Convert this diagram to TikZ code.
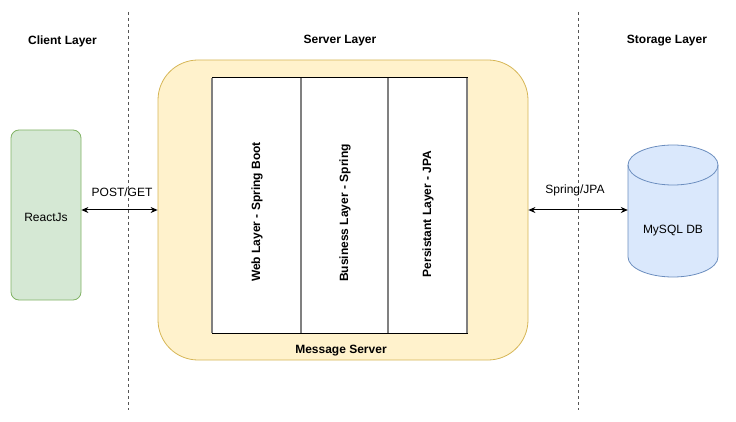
\documentclass[tikz,border=0pt]{standalone}
\usepackage{fontspec}
\setmainfont{Liberation Sans}
\usetikzlibrary{arrows.meta}
\definecolor{greenfill}{HTML}{D5E8D4}
\definecolor{greenline}{HTML}{82B366}
\definecolor{yellowfill}{HTML}{FFF2CC}
\definecolor{yellowline}{HTML}{D6B656}
\definecolor{bluefill}{HTML}{DAE8FC}
\definecolor{blueline}{HTML}{6C8EBF}
\definecolor{lanegray}{HTML}{808080}
\definecolor{dashgray}{HTML}{555555}
\tikzset{
  txt/.style={font=\fontsize{12}{14}\selectfont, inner sep=0pt},
  hdr/.style={txt, font=\fontsize{12}{14}\selectfont\bfseries},
  lanetxt/.style={hdr, rotate=90},
  sep/.style={draw=dashgray, line width=0.8pt, dash pattern=on 3pt off 3pt},
  arr/.style={draw=black, line width=1pt, {Stealth[length=7pt,width=6pt]}-{Stealth[length=7pt,width=6pt]}},
  lane/.style={draw=lanegray, line width=1.6pt},
}
\begin{document}
\begin{tikzpicture}[x=1pt,y=-1pt]
\useasboundingbox (0,0) rectangle (736,422);
% separators
\coordinate (s1t) at (128,12);
\coordinate (s1b) at (128,410);
\coordinate (s2t) at (578,12);
\coordinate (s2b) at (578,410);
\draw[sep] (s1t) -- (s1b);
\draw[sep] (s2t) -- (s2b);
% headers
\node[hdr] (hclient) at (62.5,41) {Client Layer};
\node[hdr] (hserver) at (340,41) {Server Layer};
\node[hdr] (hstorage) at (667,41) {Storage Layer};
% client
\node[draw=greenline, fill=greenfill, rounded corners=8pt, line width=0.8pt,
      minimum width=70pt, minimum height=170pt, inner sep=0pt] (react) at (46,215) {};
\node[txt] (reactlbl) at (46,217) {ReactJs};
% server
\node[draw=yellowline, fill=yellowfill, rounded corners=40pt, line width=0.8pt,
      minimum width=370pt, minimum height=300pt, inner sep=0pt] (server) at (343,210) {};
\node[draw=black, fill=white, line width=1pt, minimum width=255pt, minimum height=255pt,
      inner sep=0pt] (inner) at (339.5,205.5) {};
\coordinate (d0t) at (212,78); \coordinate (d0b) at (212,333);
\coordinate (d1t) at (301,78); \coordinate (d1b) at (301,333);
\coordinate (d2t) at (388,78); \coordinate (d2b) at (388,333);
\coordinate (d3t) at (467,78); \coordinate (d3b) at (467,333);
\draw[lane] (d0t) -- (d0b);
\draw[lane] (d1t) -- (d1b);
\draw[lane] (d2t) -- (d2b);
\draw[lane] (d3t) -- (d3b);
\draw[black, line width=1pt] (d0t) -- (d3t);
\draw[black, line width=1pt] (d0b) -- (d3b);
\node[lanetxt] (web) at (257,212) {Web Layer - Spring Boot};
\node[lanetxt] (bus) at (345,213) {Business Layer - Spring};
\node[lanetxt] (pers) at (428,214) {Persistant Layer - JPA};
\node[hdr] (msg) at (341,351) {Message Server};
% database cylinder
\filldraw[draw=blueline, fill=bluefill, line width=0.8pt]
  (628,165) -- (628,257) arc (180:0:45 and 20) -- (718,165) arc (0:-180:45 and 20) -- cycle;
\draw[blueline, line width=0.8pt] (628,165) arc (180:0:45 and 20);
\node[inner sep=0pt, minimum width=90pt, minimum height=132pt] (db) at (673,211) {};
\node[txt] (dblbl) at (673,231) {MySQL DB};
% connectors
\coordinate (m1) at (0,210);
\coordinate (m2) at (0,210);
\draw[arr] (react.east |- m1) -- (server.west |- m1);
\node[txt] (postget) at (122,192) {POST/GET};
\draw[arr] (server.east |- m2) -- (db.west |- m2);
\node[txt] (springjpa) at (575,190) {Spring/JPA};
\end{tikzpicture}
\end{document}
